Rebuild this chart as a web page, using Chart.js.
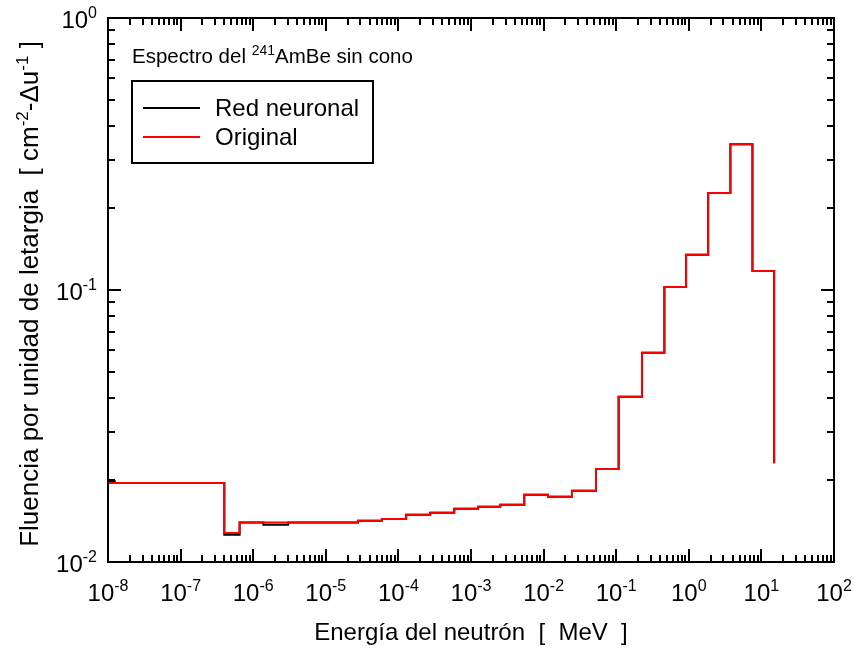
<!DOCTYPE html>
<html>
<head>
<meta charset="utf-8">
<script src="https://cdn.jsdelivr.net/npm/chart.js@4.4.0/dist/chart.umd.min.js"></script>
<style>
  html, body { margin: 0; padding: 0; background: #fff; }
  #wrap { width: 854px; height: 649px; }
</style>
</head>
<body>
<div id="wrap"><canvas id="chart" width="854" height="649"></canvas></div>
<script>
// bin edges in MeV (left edge of every step, last one closes the final step)
const binEdges = [1e-8, 4.0e-7, 6.5e-7, 1.38e-6, 3.03e-6, 6.28e-6, 1.32e-5, 2.77e-5, 5.93e-5,
  1.28e-4, 2.74e-4, 5.88e-4, 1.25e-3, 2.53e-3, 5.42e-3, 1.15e-2, 2.46e-2, 5.27e-2,
  0.108, 0.227, 0.461, 0.918, 1.85, 3.74, 7.53, 15.0];
const originalFlux = [0.01951, 0.01278, 0.01396, 0.01396, 0.01396, 0.01396, 0.01396, 0.01419, 0.01439,
  0.01492, 0.01518, 0.0157, 0.01597, 0.01624, 0.01768, 0.01738, 0.01828, 0.02197,
  0.04053, 0.05882, 0.1026, 0.1348, 0.2273, 0.3434, 0.1175, 0.02307];
// network output, only differs in a few bins
const neuronalEdges = [1e-8, 1.24e-8, 4.0e-7, 6.5e-7, 1.38e-6, 3.03e-6, 6.28e-6, 1.32e-5, 2.77e-5, 5.93e-5,
  1.28e-4, 2.74e-4, 5.88e-4, 1.25e-3, 2.53e-3, 5.42e-3, 1.15e-2, 2.46e-2, 5.27e-2,
  0.108, 0.227, 0.461, 0.918, 1.85, 3.74, 7.53, 15.0];
const neuronalFlux = [0.0198, 0.01951, 0.0126, 0.01396, 0.01371, 0.01396, 0.01396, 0.01396, 0.01419, 0.01439,
  0.01492, 0.01518, 0.0157, 0.01597, 0.01624, 0.01768, 0.01738, 0.01828, 0.02197,
  0.04053, 0.05882, 0.1026, 0.1348, 0.2273, 0.3434, 0.1175, 0.02307];
const xDecades = [-8, -7, -6, -5, -4, -3, -2, -1, 0, 1, 2];
const yDecades = [-2, -1, 0];
const seriesNames = ['Red neuronal', 'Original'];
const seriesColors = ['#000000', '#ff0000'];

const FONT = '"Liberation Sans", Arial, sans-serif';

function toPoints(xs, ys) {
  return xs.map((x, i) => ({x: x, y: ys[i]}));
}

// "10" with a raised exponent, measured so it can be aligned
function powWidth(ctx, e) {
  ctx.font = '24px ' + FONT;
  const w1 = ctx.measureText('10').width;
  ctx.font = '16px ' + FONT;
  return w1 + ctx.measureText(String(e)).width;
}
function drawPow(ctx, e, x, y) {
  ctx.textAlign = 'left';
  ctx.textBaseline = 'alphabetic';
  ctx.font = '24px ' + FONT;
  ctx.fillText('10', x, y);
  const w1 = ctx.measureText('10').width;
  ctx.font = '16px ' + FONT;
  ctx.fillText(String(e), x + w1, y - 10);
}

const framePlugin = {
  id: 'frame',
  afterDatasetsDraw(chart) {
    const ctx = chart.ctx;
    const a = chart.chartArea;
    const xs = chart.scales.x, ys = chart.scales.y;
    ctx.save();
    ctx.strokeStyle = '#000';
    ctx.fillStyle = '#000';
    ctx.lineWidth = 2;
    ctx.strokeRect(a.left, a.top, a.right - a.left, a.bottom - a.top);

    // inward ticks on all four sides
    ctx.beginPath();
    xDecades.forEach(d => {
      for (let m = 1; m <= 9; m++) {
        const v = m * Math.pow(10, d);
        if (v > xs.max * 1.0001) break;
        const px = Math.round(xs.getPixelForValue(v));
        const len = m === 1 ? 13 : 7;
        ctx.moveTo(px, a.bottom); ctx.lineTo(px, a.bottom - len);
        ctx.moveTo(px, a.top); ctx.lineTo(px, a.top + len);
      }
    });
    yDecades.forEach(d => {
      for (let m = 1; m <= 9; m++) {
        const v = m * Math.pow(10, d);
        if (v > ys.max * 1.0001) break;
        const py = Math.round(ys.getPixelForValue(v));
        const len = m === 1 ? 13 : 7;
        ctx.moveTo(a.left, py); ctx.lineTo(a.left + len, py);
        ctx.moveTo(a.right, py); ctx.lineTo(a.right - len, py);
      }
    });
    ctx.stroke();

    // tick labels
    xDecades.forEach(d => {
      const px = xs.getPixelForValue(Math.pow(10, d));
      const w = powWidth(ctx, d);
      drawPow(ctx, d, px - w / 2, a.bottom + 39);
    });
    yDecades.forEach(d => {
      const py = ys.getPixelForValue(Math.pow(10, d));
      const w = powWidth(ctx, d);
      drawPow(ctx, d, a.left - 11 - w, py + 10);
    });

    // axis titles
    ctx.font = '24px ' + FONT;
    ctx.textAlign = 'center';
    ctx.textBaseline = 'alphabetic';
    ctx.fillText('Energía del neutrón  [  MeV  ]', (a.left + a.right) / 2, 640);

    ctx.save();
    ctx.translate(38, (a.top + a.bottom) / 2 + 4);
    ctx.rotate(-Math.PI / 2);
    const parts = [
      ['Fluencia por unidad de letargia  [ cm', 0],
      ['-2', 1],
      ['-\u0394u', 0],
      ['-1', 1],
      [' ]', 0]
    ];
    let total = 0;
    parts.forEach(p => {
      ctx.font = (p[1] ? '17px ' : '26px ') + FONT;
      total += ctx.measureText(p[0]).width;
    });
    let cx = -total / 2;
    ctx.textAlign = 'left';
    parts.forEach(p => {
      ctx.font = (p[1] ? '17px ' : '26px ') + FONT;
      ctx.fillText(p[0], cx, p[1] ? -10 : 0);
      cx += ctx.measureText(p[0]).width;
    });
    ctx.restore();

    // annotation
    ctx.textAlign = 'left';
    ctx.font = '20.5px ' + FONT;
    let tx = a.left + 24;
    ctx.fillText('Espectro del ', tx, 63);
    tx += ctx.measureText('Espectro del ').width;
    ctx.font = '14px ' + FONT;
    ctx.fillText('241', tx, 55);
    tx += ctx.measureText('241').width;
    ctx.font = '20.5px ' + FONT;
    ctx.fillText('AmBe sin cono', tx, 63);

    // legend box
    ctx.lineWidth = 2;
    ctx.strokeRect(132, 81, 241, 82);
    seriesNames.forEach((name, i) => {
      const ly = 108 + i * 29;
      ctx.strokeStyle = seriesColors[i];
      ctx.beginPath();
      ctx.moveTo(143, ly); ctx.lineTo(200, ly);
      ctx.stroke();
      ctx.font = '24px ' + FONT;
      ctx.fillText(name, 215, ly + 8);
    });
    ctx.restore();
  }
};

new Chart(document.getElementById('chart'), {
  type: 'line',
  data: {
    datasets: [
      {
        label: seriesNames[0],
        data: toPoints(neuronalEdges, neuronalFlux),
        borderColor: seriesColors[0],
        borderWidth: 2,
        stepped: true,
        pointRadius: 0,
        fill: false,
        order: 2
      },
      {
        label: seriesNames[1],
        data: toPoints(binEdges, originalFlux),
        borderColor: seriesColors[1],
        borderWidth: 2,
        stepped: true,
        pointRadius: 0,
        fill: false,
        order: 1
      }
    ]
  },
  options: {
    responsive: false,
    devicePixelRatio: 1,
    animation: false,
    layout: {padding: {left: 108, right: 20, top: 18, bottom: 87}},
    plugins: {legend: {display: false}, tooltip: {enabled: false}},
    scales: {
      x: {type: 'logarithmic', min: 1e-8, max: 1e2, display: false},
      y: {type: 'logarithmic', min: 1e-2, max: 1, display: false}
    }
  },
  plugins: [framePlugin]
});
</script>
</body>
</html>
